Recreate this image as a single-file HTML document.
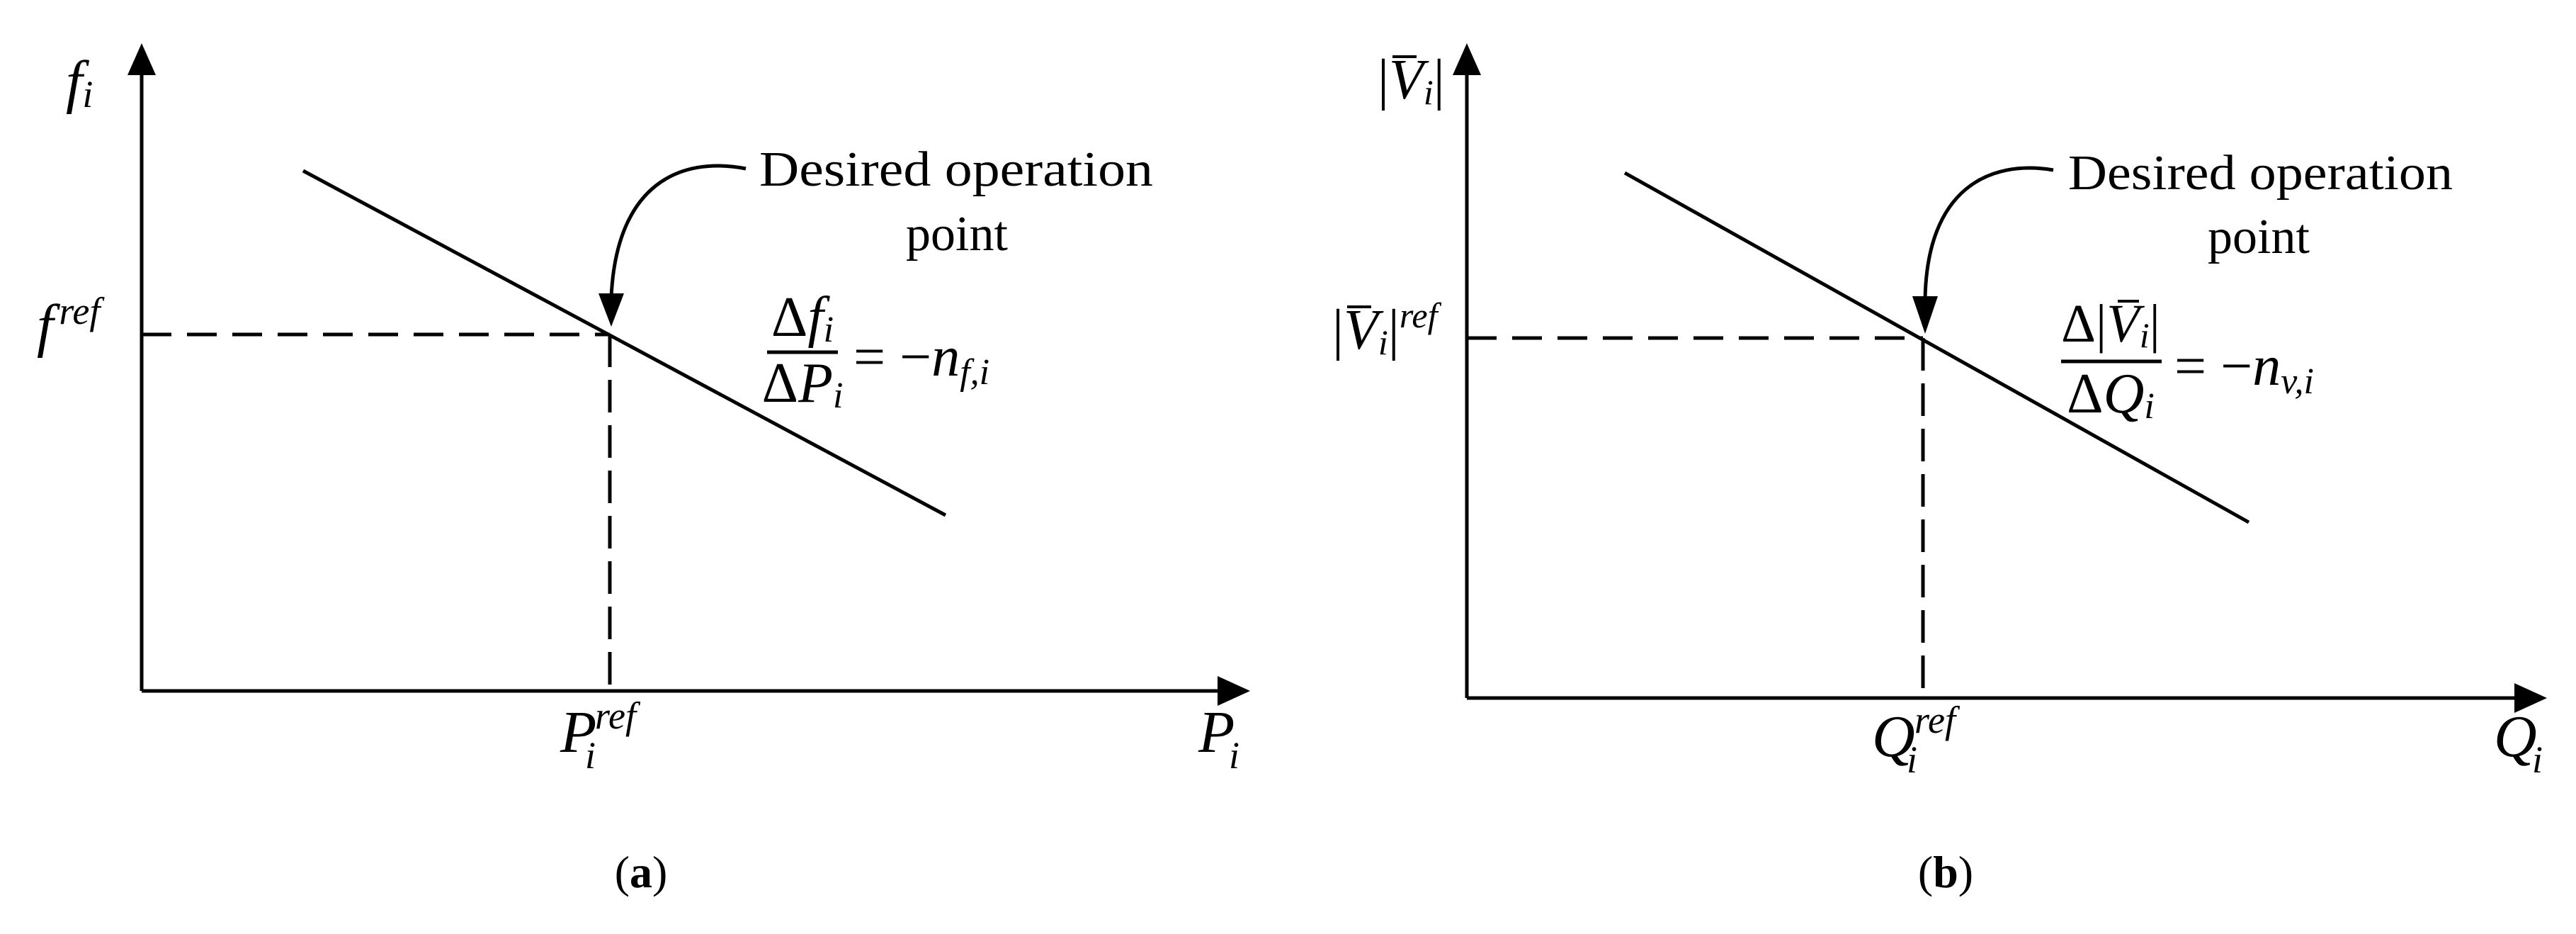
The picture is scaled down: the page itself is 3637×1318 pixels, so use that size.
<!DOCTYPE html>
<html><head><meta charset="utf-8"><style>
html,body{margin:0;padding:0;background:#fff;}
svg{display:block;}
text{font-family:"Liberation Serif",serif;fill:#000;}
.it{font-style:italic;}
</style></head><body>
<svg width="3637" height="1318" viewBox="0 0 3637 1318" xmlns="http://www.w3.org/2000/svg">
<g stroke="#000" stroke-width="5" fill="none">
  <line x1="200" y1="100" x2="200" y2="975"/>
  <line x1="200" y1="975" x2="1725" y2="975"/>
  <line x1="428" y1="241" x2="1335" y2="727"/>
  <line x1="200" y1="472" x2="861" y2="472" stroke-dasharray="42 22"/>
  <line x1="861" y1="472" x2="861" y2="975" stroke-dasharray="46 18"/>
  <path d="M1053,238 C960,220 870,260 863,420"/>
  <line x1="2071" y1="100" x2="2071" y2="985"/>
  <line x1="2071" y1="985" x2="3560" y2="985"/>
  <line x1="2294" y1="244" x2="3175" y2="737"/>
  <line x1="2071" y1="477" x2="2715" y2="477" stroke-dasharray="42 22"/>
  <line x1="2715" y1="477" x2="2715" y2="985" stroke-dasharray="46 18"/>
  <path d="M2899,240 C2810,225 2720,265 2718,424"/>
</g>
<g fill="#000">
  <polygon points="200,61 180,106 220,106"/>
  <polygon points="1765,975 1719,954 1719,996"/>
  <polygon points="863,461 845,414 881,414"/>
  <polygon points="2071,61 2051,106 2091,106"/>
  <polygon points="3596,985 3550,964 3550,1006"/>
  <polygon points="2718,471 2700,418 2736,418"/>
</g>
<!-- panel a text -->
<text x="1072" y="262" font-size="70" textLength="556" lengthAdjust="spacingAndGlyphs">Desired operation</text>
<text x="1351" y="353" font-size="70" text-anchor="middle">point</text>
<text x="93" y="143" font-size="84" class="it">f<tspan font-size="54" dy="8">i</tspan></text>
<text x="52" y="487" font-size="84" class="it">f<tspan font-size="54" dy="-30" dx="8">ref</tspan></text>
<text x="1133" y="474" font-size="80" text-anchor="middle">Δ<tspan class="it">f</tspan><tspan class="it" font-size="52" dy="8">i</tspan></text>
<line x1="1083" y1="497" x2="1183" y2="497" stroke="#000" stroke-width="5"/>
<text x="1133" y="567" font-size="80" text-anchor="middle">Δ<tspan class="it">P</tspan><tspan class="it" font-size="52" dy="8">i</tspan></text>
<text x="1205" y="530" font-size="80">= −<tspan class="it">n</tspan><tspan class="it" font-size="52" dy="12">f,i</tspan></text>
<text x="791" y="1061" font-size="84" class="it">P</text>
<text x="840" y="1028" font-size="54" class="it">ref</text>
<text x="826" y="1084" font-size="54" class="it">i</text>
<text x="1692" y="1061" font-size="84" class="it">P</text>
<text x="1735" y="1084" font-size="54" class="it">i</text>
<text x="905" y="1252" font-size="64" text-anchor="middle">(<tspan font-weight="bold">a</tspan>)</text>
<!-- panel b text -->
<text x="2920" y="267" font-size="70" textLength="543" lengthAdjust="spacingAndGlyphs">Desired operation</text>
<text x="3189" y="357" font-size="70" text-anchor="middle">point</text>
<text x="1945" y="139" font-size="80">|<tspan class="it">V</tspan><tspan class="it" font-size="50" dy="8">i</tspan><tspan dy="-8">|</tspan></text>
<line x1="1966" y1="80" x2="2000" y2="80" stroke="#000" stroke-width="4"/>
<text x="1881" y="492" font-size="80">|<tspan class="it">V</tspan><tspan class="it" font-size="50" dy="8">i</tspan><tspan dy="-8">|</tspan><tspan class="it" font-size="50" dy="-30">ref</tspan></text>
<line x1="1902" y1="433" x2="1936" y2="433" stroke="#000" stroke-width="4"/>
<text x="2980" y="482" font-size="76" text-anchor="middle">Δ|<tspan class="it">V</tspan><tspan class="it" font-size="50" dy="8">i</tspan><tspan dy="-8">|</tspan></text>
<line x1="2990" y1="425" x2="3020" y2="425" stroke="#000" stroke-width="4"/>
<line x1="2910" y1="510" x2="3052" y2="510" stroke="#000" stroke-width="5"/>
<text x="2980" y="582" font-size="80" text-anchor="middle">Δ<tspan class="it">Q</tspan><tspan class="it" font-size="52" dy="8">i</tspan></text>
<text x="3070" y="543" font-size="80">= −<tspan class="it">n</tspan><tspan class="it" font-size="52" dy="12">v,i</tspan></text>
<text x="2643" y="1067" font-size="84" class="it">Q</text>
<text x="2703" y="1034" font-size="54" class="it">ref</text>
<text x="2692" y="1090" font-size="54" class="it">i</text>
<text x="3521" y="1067" font-size="84" class="it">Q</text>
<text x="3575" y="1090" font-size="54" class="it">i</text>
<text x="2747" y="1252" font-size="64" text-anchor="middle">(<tspan font-weight="bold">b</tspan>)</text>
</svg>
</body></html>
